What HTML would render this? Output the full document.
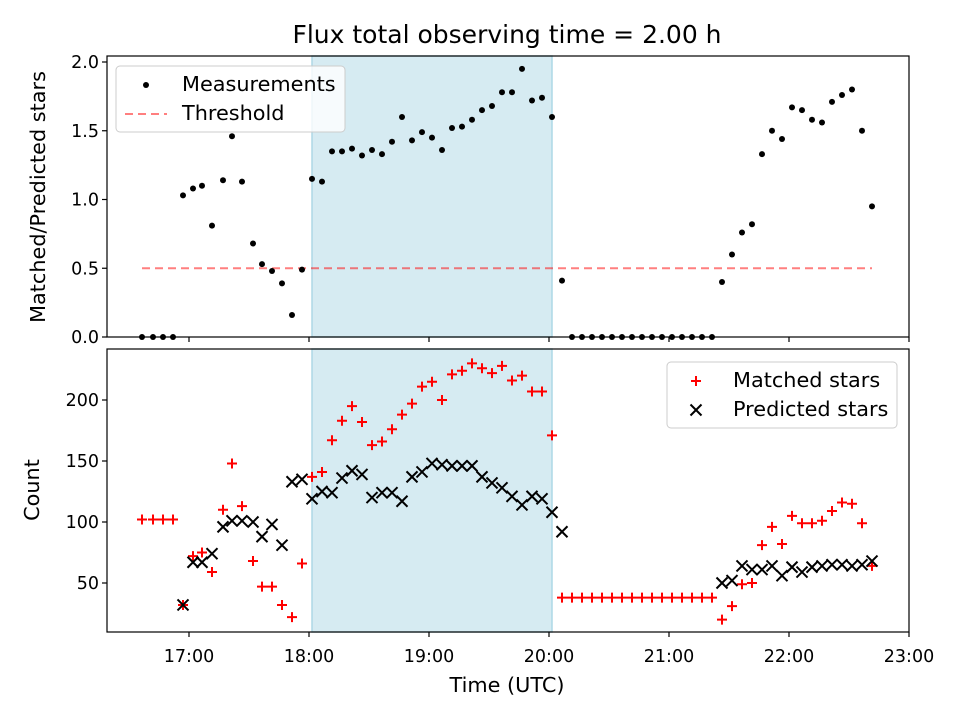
<!DOCTYPE html>
<html><head><meta charset="utf-8"><style>
body{margin:0;background:#fff}
svg{display:block;font-family:"DejaVu Sans","Liberation Sans",sans-serif}
</style></head><body>
<svg id="c" width="960" height="720" viewBox="0 0 960 720"></svg>
<script>
// minutes relative to 17:00 UTC
const times=[-23.5,-18,-13,-8,-3,2,6.5,11.5,17,21.5,26.5,32,36.5,41.5,46.5,51.5,56.5,61.5,66.5,71.5,76.5,81.5,86.5,91.5,96.5,101.5,106.5,111.5,116.5,121.5,126.5,131.5,136.5,141.5,146.5,151.5,156.5,161.5,166.5,171.5,176.5,181.5,186.5,191.5,196.5,201.5,206.5,211.5,216.5,221.5,226.5,231.5,236.5,241.5,246.5,251.5,256.5,261.5,266.5,271.5,276.5,281.5,286.5,291.5,296.5,301.5,306.5,311.5,316.5,321.5,326.5,331.5,336.5,341.5];
const ratio=[0,0,0,0,1.03,1.08,1.10,0.81,1.14,1.46,1.13,0.68,0.53,0.48,0.39,0.16,0.49,1.15,1.13,1.35,1.35,1.37,1.32,1.36,1.33,1.42,1.60,1.43,1.49,1.45,1.36,1.52,1.53,1.58,1.65,1.68,1.78,1.78,1.95,1.72,1.74,1.60,0.41,0,0,0,0,0,0,0,0,0,0,0,0,0,0,0,0.40,0.60,0.76,0.82,1.33,1.50,1.44,1.67,1.65,1.58,1.56,1.71,1.76,1.80,1.50,0.95];
const matched=[102,102,102,102,32,72,75,59,110,148,113,68,47,47,32,22,66,137,141,167,183,195,182,163,166,176,188,197,211,215,200,221,224,230,226,222,228,216,220,207,207,171,38,38,38,38,38,38,38,38,38,38,38,38,38,38,38,38,20,31,49,50,81,96,82,105,99,99,101,109,116,115,99,64];
const predicted=[null,null,null,null,32,67,67,74,96,101,101,100,88,98,81,133,135,119,125,124,136,142,139,120,124,124,117,137,141,148,147,146,146,146,137,132,128,121,114,121,119,108,92,null,null,null,null,null,null,null,null,null,null,null,null,null,null,null,50,52,64,61,61,64,56,63,59,63,64,65,65,64,65,68];
const xTickLabels=["17:00","18:00","19:00","20:00","21:00","22:00","23:00"];
const xTickMins=[0,60,120,180,240,300,360];
const topTicks=[0,0.5,1.0,1.5,2.0];
const botTicks=[50,100,150,200];
const threshold=0.5;
const shadeStart=61.5, shadeEnd=181.5;

const NS="http://www.w3.org/2000/svg";
const svg=document.getElementById('c');
function mk(tag,attrs,parent){const e=document.createElementNS(NS,tag);for(const k in attrs)e.setAttribute(k,attrs[k]);(parent||svg).appendChild(e);return e;}
const L=107,R=909;
const FT=17.5, FL=20.8;
const X=m=>189+m*2;
const Yt=v=>337-v*137.5;
const Yb=v=>522-(v-100)*1.22;

let t=mk('text',{x:507,y:43,'text-anchor':'middle','font-size':25});t.textContent="Flux total observing time = 2.00 h";



function panel(top,bot,name){
  const g=mk('g',{});
  
  
  const sh=mk('rect',{x:X(shadeStart),y:top,width:X(shadeEnd)-X(shadeStart),height:bot-top,fill:'#add8e6','fill-opacity':0.5,stroke:'#add8e6','stroke-width':1.5},g);
  
  
  return g;
}
function frame(g,top,bot){
  const f=mk('rect',{x:L,y:top,width:R-L,height:bot-top,fill:'none',stroke:'#000','stroke-width':1.2},g);
  
  
  xTickMins.forEach(m=>{mk('line',{x1:X(m),x2:X(m),y1:bot,y2:bot+5,stroke:'#000','stroke-width':1.2},g);});
}
const gt=panel(56,337,'ratio-panel');
const th=mk('line',{x1:X(times[0]),x2:X(times[times.length-1]),y1:Yt(threshold),y2:Yt(threshold),stroke:'#ff0000','stroke-opacity':0.5,'stroke-width':2,'stroke-dasharray':'8,5'},gt);


times.forEach((m,i)=>{const c=mk('circle',{cx:X(m),cy:Yt(ratio[i]),r:3,fill:'#000'},gt);

});
frame(gt,56,337);
topTicks.forEach(v=>{mk('line',{x1:L-5,x2:L,y1:Yt(v),y2:Yt(v),stroke:'#000','stroke-width':1.2},gt);
const tx=mk('text',{x:L-8,y:Yt(v)+6,'text-anchor':'end','font-size':FT},gt);tx.textContent=v.toFixed(1);

});
let yl=mk('text',{transform:'translate(45,197) rotate(-90)','text-anchor':'middle','font-size':FL});yl.textContent="Matched/Predicted stars";



const gb=panel(349,632,'count-panel');
times.forEach((m,i)=>{
  const x=X(m),y=Yb(matched[i]);
  const p=mk('path',{d:`M${x-5},${y}H${x+5}M${x},${y-5}V${y+5}`,stroke:'#ff0000','stroke-width':2,fill:'none'},gb);
  
  
});
times.forEach((m,i)=>{
  if(predicted[i]===null)return;
  const x=X(m),y=Yb(predicted[i]);
  const p=mk('path',{d:`M${x-5.5},${y-5.5}L${x+5.5},${y+5.5}M${x-5.5},${y+5.5}L${x+5.5},${y-5.5}`,stroke:'#000','stroke-width':2,fill:'none'},gb);
  
  
});
frame(gb,349,632);
botTicks.forEach(v=>{mk('line',{x1:L-5,x2:L,y1:Yb(v),y2:Yb(v),stroke:'#000','stroke-width':1.2},gb);
const tx=mk('text',{x:L-8,y:Yb(v)+6,'text-anchor':'end','font-size':FT},gb);tx.textContent=v;

});
xTickMins.forEach((m,i)=>{const tx=mk('text',{x:X(m),y:662,'text-anchor':'middle','font-size':FT},gb);tx.textContent=xTickLabels[i];

});
let yl2=mk('text',{transform:'translate(39,490) rotate(-90)','text-anchor':'middle','font-size':FL});yl2.textContent="Count";


let xl=mk('text',{x:507,y:692,'text-anchor':'middle','font-size':FL});xl.textContent="Time (UTC)";


</script>
<div style="position:absolute;left:0;top:0;width:960px;height:720px;pointer-events:none">
<svg width="960" height="720" style="font-family:'DejaVu Sans','Liberation Sans',sans-serif">
<g>
<rect x="116" y="66" width="229" height="66" rx="4" fill="#fff" fill-opacity="0.8" stroke="#ccc"/>
<circle cx="146" cy="85" r="3" fill="#000"/>
<text x="182" y="91" font-size="20.8">Measurements</text>
<line x1="125" x2="167" y1="114" y2="114" stroke="#ff0000" stroke-opacity="0.5" stroke-width="2" stroke-dasharray="8,5"/>
<text x="182" y="120" font-size="20.8">Threshold</text>
</g>
<g>
<rect x="667" y="362" width="230" height="66" rx="4" fill="#fff" fill-opacity="0.8" stroke="#ccc"/>
<path d="M691,381H701M696,376V386" stroke="#ff0000" stroke-width="2"/>
<text x="733" y="387" font-size="20.8">Matched stars</text>
<path d="M690.5,404.5L701.5,415.5M690.5,415.5L701.5,404.5" stroke="#000" stroke-width="2"/>
<text x="733" y="416" font-size="20.8">Predicted stars</text>
</g>
</svg></div>
</body></html>
